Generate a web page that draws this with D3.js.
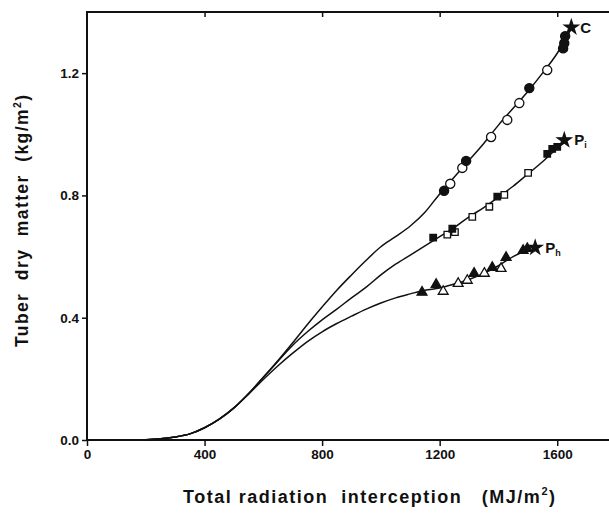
<!DOCTYPE html>
<html>
<head>
<meta charset="utf-8">
<script src="https://cdn.jsdelivr.net/npm/d3@7"></script>
<style>
  body { margin: 0; background: #fff; }
  svg text { font-family: "Liberation Sans", Arial, sans-serif; font-weight: bold; fill: #111; }
</style>
</head>
<body>
<div id="chart"></div>
<script>
// simulated curves (x = radiation MJ/m2, y = kg/m2)
const curveX = [0, 150, 250, 300, 350, 400, 450, 500, 550, 600, 650, 700, 750, 800, 850, 900, 950, 1000, 1050, 1100, 1150, 1200, 1250, 1300, 1350, 1400, 1450, 1500, 1550, 1600, 1650]
const curveC = [0, 0, 0.004, 0.01, 0.02, 0.04, 0.068, 0.105, 0.152, 0.205, 0.26, 0.318, 0.378, 0.435, 0.49, 0.54, 0.588, 0.632, 0.665, 0.7, 0.745, 0.805, 0.86, 0.915, 0.97, 1.03, 1.085, 1.14, 1.2, 1.265, 1.35]
const curvePi = [0, 0, 0.004, 0.01, 0.02, 0.04, 0.068, 0.105, 0.152, 0.205, 0.258, 0.31, 0.354, 0.393, 0.428, 0.465, 0.5, 0.54, 0.575, 0.605, 0.635, 0.665, 0.695, 0.73, 0.76, 0.795, 0.83, 0.87, 0.91, 0.955, null]
const curvePh = [0, 0, 0.004, 0.01, 0.02, 0.04, 0.068, 0.105, 0.15, 0.198, 0.243, 0.284, 0.322, 0.354, 0.381, 0.405, 0.428, 0.448, 0.465, 0.478, 0.49, 0.497, 0.51, 0.525, 0.545, 0.57, 0.6, 0.622, null, null, null]

// observed points
const cFilled = [[1215, 0.815], [1290, 0.913], [1505, 1.151], [1620, 1.281], [1624, 1.298], [1627, 1.321]]
const cOpen = [[1236, 0.838], [1277, 0.89], [1375, 0.991], [1430, 1.047], [1471, 1.102], [1566, 1.21]]
const piFilled = [[1178, 0.662], [1243, 0.691], [1396, 0.796], [1566, 0.936], [1583, 0.952], [1600, 0.959]]
const piOpen = [[1226, 0.672], [1252, 0.68], [1311, 0.73], [1369, 0.763], [1420, 0.802], [1501, 0.874]]
const phFilled = [[1140, 0.483], [1188, 0.509], [1317, 0.545], [1379, 0.564], [1426, 0.597], [1484, 0.62], [1498, 0.626]]
const phOpen = [[1212, 0.486], [1263, 0.512], [1294, 0.522], [1352, 0.545], [1409, 0.561]]
const stars = [[1648, 1.35], [1624, 0.981], [1525, 0.629]]

const xTicks = [0, 400, 800, 1200, 1600]
const yTicks = [0, 0.4, 0.8, 1.2]

const width = 609, height = 518

const svg = d3.select("#chart").append("svg")
  .attr("width", width)
  .attr("height", height)

const x = d3.scaleLinear().domain([0, 1800]).range([87, 616])
const y = d3.scaleLinear().domain([0, 1.4]).range([440, 12])

// frame
svg.append("rect")
  .attr("x", x(0)).attr("y", y(1.4))
  .attr("width", x(1800) - x(0)).attr("height", y(0) - y(1.4))
  .attr("fill", "none").attr("stroke", "#111").attr("stroke-width", 2)

// axes
const xAxis = svg.append("g")
  .attr("transform", "translate(0," + y(0) + ")")
  .call(d3.axisBottom(x).tickValues(xTicks).tickSize(6).tickPadding(3).tickFormat(d3.format("d")))
xAxis.select(".domain").remove()
xAxis.selectAll("text").attr("font-size", 13.5).style("font-family", "Liberation Sans, Arial, sans-serif")

const xTop = svg.append("g")
  .attr("transform", "translate(0," + y(1.4) + ")")
  .call(d3.axisBottom(x).tickValues(xTicks.slice(1)).tickSize(5).tickFormat(""))
xTop.select(".domain").remove()

const yAxis = svg.append("g")
  .attr("transform", "translate(" + x(0) + ",0)")
  .call(d3.axisLeft(y).tickValues(yTicks).tickSize(5).tickPadding(3).tickFormat(d3.format(".1f")))
yAxis.select(".domain").remove()
yAxis.selectAll("text").attr("font-size", 13.5).style("font-family", "Liberation Sans, Arial, sans-serif")

svg.selectAll(".tick line").attr("stroke", "#111").attr("stroke-width", 1.5)

// curves
const line = d3.line()
  .defined(d => d[1] !== null)
  .x(d => x(d[0]))
  .y(d => y(d[1]))
  .curve(d3.curveMonotoneX)

;[curveC, curvePi, curvePh].forEach(series => {
  svg.append("path")
    .datum(curveX.map((v, i) => [v, series[i]]))
    .attr("fill", "none")
    .attr("stroke", "#111")
    .attr("stroke-width", 1.5)
    .attr("d", line)
})

// markers
const circ = d3.symbol().type(d3.symbolCircle).size(66)
const sq = d3.symbol().type(d3.symbolSquare).size(42)
const tri = d3.symbol().type(d3.symbolTriangle).size(42)
const star = d3.symbol().type(d3.symbolStar).size(60)

function drawMarks(data, sym, filled){
  svg.append("g").selectAll("path")
    .data(data)
    .enter()
    .append("path")
    .attr("transform", d => "translate(" + [x(d[0]), y(d[1])] + ")")
    .attr("d", sym)
    .attr("fill", filled ? "#111" : "#fff")
    .attr("stroke", "#111")
    .attr("stroke-width", 1.3)
}

drawMarks(cOpen, circ, false)
drawMarks(cFilled, circ, true)
drawMarks(piOpen, sq, false)
drawMarks(piFilled, sq, true)
drawMarks(phOpen, tri, false)
drawMarks(phFilled, tri, true)
drawMarks(stars, star, true)

// series labels
svg.append("text").attr("x", x(1648) + 9).attr("y", y(1.35) + 6).attr("font-size", 15).text("C")
const pi = svg.append("text").attr("x", x(1624) + 10).attr("y", y(0.981) + 5).attr("font-size", 15).text("P")
pi.append("tspan").attr("font-size", 9).attr("dy", 3).text("i")
const ph = svg.append("text").attr("x", x(1525) + 10).attr("y", y(0.629) + 5).attr("font-size", 15).text("P")
ph.append("tspan").attr("font-size", 9).attr("dy", 3).text("h")

// axis titles
const xt = svg.append("text")
  .attr("x", 183).attr("y", 503)
  .attr("font-size", 18)
  .attr("textLength", 372)
  .attr("lengthAdjust", "spacing")
  .attr("xml:space", "preserve")
  .text("Total radiation  interception   (MJ/m")
xt.append("tspan").attr("font-size", 11).attr("dy", -8).text("2")
xt.append("tspan").attr("dy", 8).text(")")

const yt = svg.append("text")
  .attr("transform", "translate(28,347) rotate(-90)")
  .attr("font-size", 17.5)
  .attr("textLength", 252)
  .attr("lengthAdjust", "spacing")
  .attr("xml:space", "preserve")
  .text("Tuber  dry  matter  (kg/m")
yt.append("tspan").attr("font-size", 10.5).attr("dy", -7).text("2")
yt.append("tspan").attr("dy", 7).text(")")
</script>
</body>
</html>
